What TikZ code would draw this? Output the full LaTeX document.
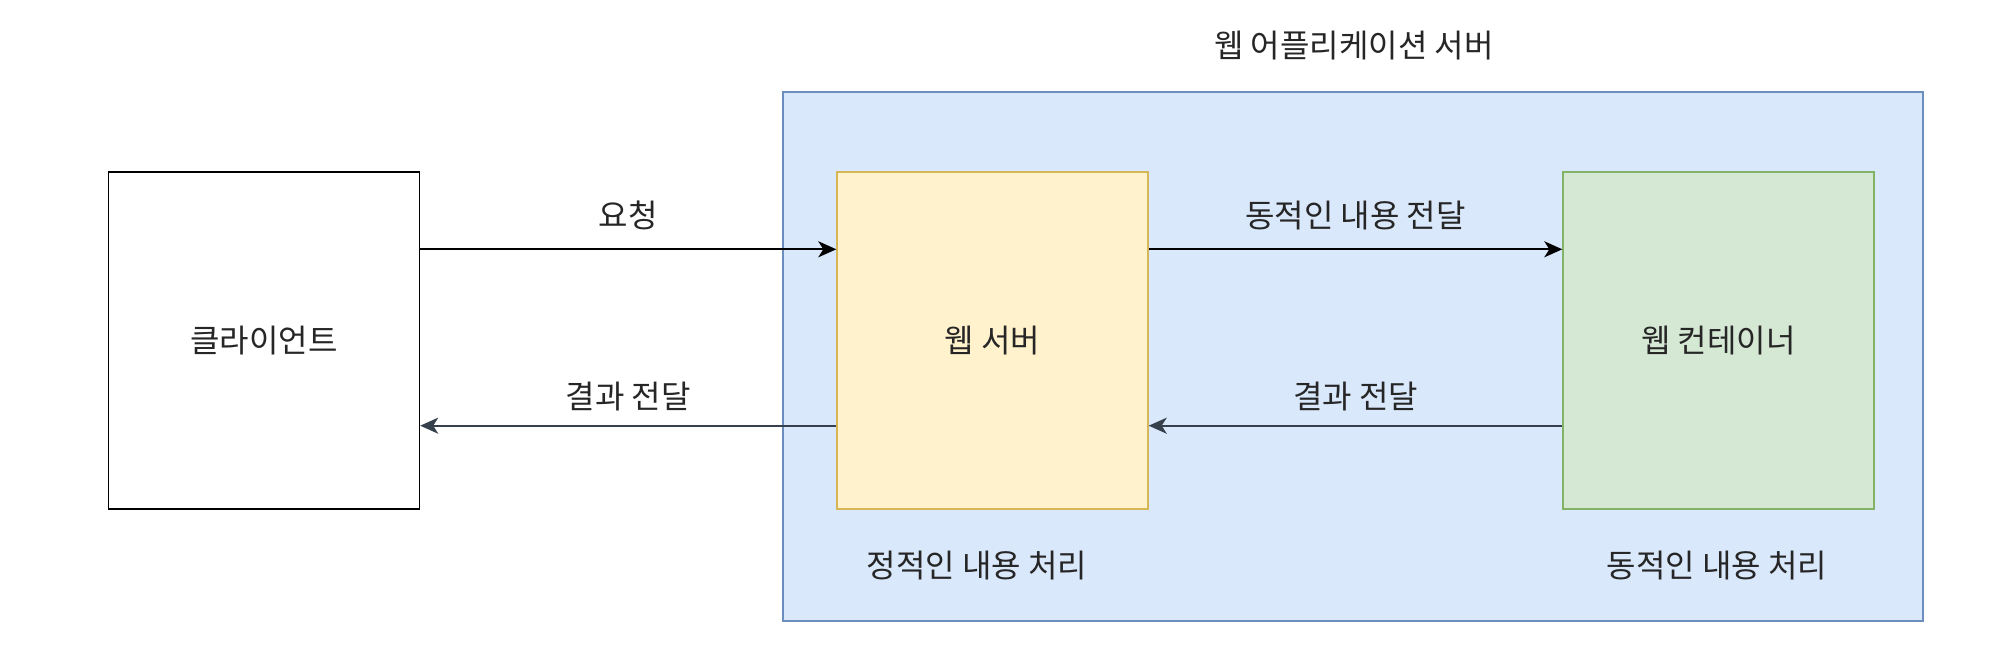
\documentclass[tikz,border=0pt]{standalone}
\usepackage{fontspec}
\setmainfont{Noto Sans CJK KR}
\usetikzlibrary{calc, positioning}
\usetikzlibrary{arrows.meta}

\definecolor{appfill}{HTML}{DAE8FC}
\definecolor{appline}{HTML}{6C8EBF}
\definecolor{srvfill}{HTML}{FFF2CC}
\definecolor{srvline}{HTML}{D6B656}
\definecolor{wcfill}{HTML}{D5E8D4}
\definecolor{wcline}{HTML}{82B366}
\definecolor{backline}{RGB}{55,65,78}

\tikzset{
  box/.style={draw, line width=0.7pt, minimum width=155.5pt, minimum height=168.5pt,
    font=\fontsize{16}{19}\selectfont, text=black!85},
  flow/.style={-{Stealth[length=9pt, width=8pt, inset=2.5pt]}, line width=1.1pt},
  lbl/.style={font=\fontsize{16}{19}\selectfont, text=black!85}
}

\begin{document}
\begin{tikzpicture}[x=0.5pt, y=-0.5pt]
\useasboundingbox (0,0) rectangle (2000,651);

% application server frame
\draw[fill=appfill, draw=appline, line width=0.7pt] (783,92) rectangle (1923,621);
\node[lbl] (apptitle) at (1354,46) {웹 어플리케이션 서버};

\node[box] (client) at (264,340.5) {클라이언트};
\node[box, fill=srvfill, draw=srvline] (srv) at (992.5,340.5) {웹 서버};
\node[box, fill=wcfill, draw=wcline] (wc) at (1718.5,340.5) {웹 컨테이너};

\node[lbl] (static) at (977,566) {정적인 내용 처리};
\node[lbl] (dynamic) at (1717,566) {동적인 내용 처리};

% requests
\draw[flow] ([yshift=-39pt]client.north east) -- node[lbl, yshift=17pt] {요청}
  ([yshift=-39pt]srv.north west);
\draw[flow] ([yshift=-39pt]srv.north east) -- node[lbl, yshift=17pt] {동적인 내용 전달}
  ([yshift=-39pt]wc.north west);

% results
\draw[flow, draw=backline] ([yshift=42pt]wc.south west) -- node[lbl, yshift=14.5pt] {결과 전달}
  ([yshift=42pt]srv.south east);
\draw[flow, draw=backline] ([yshift=42pt]srv.south west) -- node[lbl, yshift=14.5pt] {결과 전달}
  ([yshift=42pt]client.south east);
\end{tikzpicture}
\end{document}
